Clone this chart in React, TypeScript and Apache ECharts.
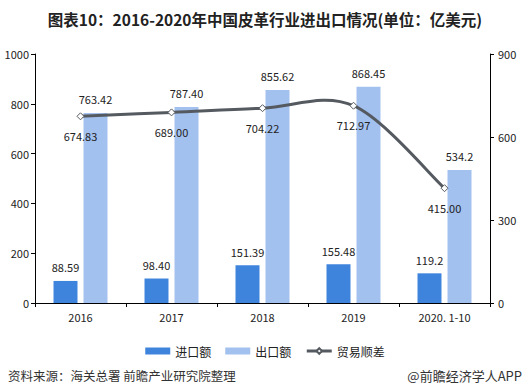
import React, { useEffect, useRef } from "react";
import * as echarts from "echarts";

const categories = ["2016", "2017", "2018", "2019", "2020.1-10"];
const importValues = [88.59, 98.4, 151.39, 155.48, 119.2];
const exportValues = [763.42, 787.4, 855.62, 868.45, 534.2];
const surplusValues = [674.83, 689.0, 704.22, 712.97, 415.0];
const importLabels = ["88.59", "98.40", "151.39", "155.48", "119.2"];
const exportLabels = ["763.42", "787.40", "855.62", "868.45", "534.2"];
const surplusLabels = ["674.83", "689.00", "704.22", "712.97", "415.00"];
const leftTicks = { min: 0, max: 1000, interval: 200 };
const rightTicks = { min: 0, max: 900, interval: 300 };

const FONT = "'Noto Sans CJK SC', 'Noto Sans', sans-serif";
const LINE_COLOR = "#555a60";

export default function App() {
  const ref = useRef<HTMLDivElement>(null);
  useEffect(() => {
    if (!ref.current) return;
    const chart = echarts.init(ref.current, undefined, { renderer: "svg" });
    const labelStyle = { fontSize: 11, color: "#222", fontFamily: FONT };
    chart.setOption({
      animation: false,
      backgroundColor: "#fff",
      title: {
        text: "图表10：2016-2020年中国皮革行业进出口情况(单位：亿美元)",
        left: "center",
        top: 6,
        textStyle: { fontSize: 15.5, fontWeight: "bold", color: "#222", fontFamily: FONT },
      },
      graphic: [
        {
          type: "text",
          left: 8,
          top: 369,
          style: { text: "资料来源：海关总署 前瞻产业研究院整理", fontSize: 12.5, fill: "#333", fontFamily: FONT },
        },
        {
          type: "text",
          right: 8,
          top: 369,
          style: { text: "@前瞻经济学人APP", fontSize: 13, fill: "#333", fontFamily: FONT },
        },
      ],
      legend: {
        top: 340,
        left: "center",
        itemGap: 14,
        itemWidth: 25,
        itemHeight: 7,
        textStyle: { fontSize: 12, color: "#222", fontFamily: FONT },
        data: [
          { name: "进口额", icon: "rect" },
          { name: "出口额", icon: "rect" },
          { name: "贸易顺差", lineStyle: { color: LINE_COLOR, width: 3, opacity: 1 } },
        ],
      },
      grid: { left: 35, right: 40, top: 54, bottom: 89 },
      xAxis: {
        type: "category",
        data: categories,
        axisLine: { lineStyle: { color: "#000" } },
        axisTick: { show: true, length: 4, lineStyle: { color: "#000" } },
        axisLabel: {
          fontSize: 11,
          color: "#222",
          margin: 8,
          fontFamily: FONT,
          formatter: (v: string) => v.replace(".", ". "),
        },
      },
      yAxis: [
        {
          type: "value",
          ...leftTicks,
          axisLine: { show: true, lineStyle: { color: "#000" } },
          axisTick: { show: true, length: 4, lineStyle: { color: "#000" } },
          splitLine: { show: false },
          axisLabel: {
            fontSize: 11,
            color: "#222",
            margin: 6,
            fontFamily: FONT,
            formatter: (v: number) => String(v),
          },
        },
        {
          type: "value",
          ...rightTicks,
          position: "right",
          axisLine: { show: true, lineStyle: { color: "#000" } },
          axisTick: { show: true, length: 4, lineStyle: { color: "#000" } },
          splitLine: { show: false },
          axisLabel: {
            fontSize: 11,
            color: "#222",
            margin: 8,
            fontFamily: FONT,
            formatter: (v: number) => String(v),
          },
        },
      ],
      series: [
        {
          name: "进口额",
          type: "bar",
          yAxisIndex: 0,
          data: importValues,
          barWidth: 24,
          barGap: "25%",
          itemStyle: { color: "#3f84dc" },
          label: {
            show: true,
            position: "top",
            distance: 8,
            ...labelStyle,
            formatter: (p: any) => importLabels[p.dataIndex],
          },
        },
        {
          name: "出口额",
          type: "bar",
          yAxisIndex: 0,
          data: exportValues,
          barWidth: 24,
          itemStyle: { color: "#a3c1ef" },
          label: {
            show: true,
            position: "top",
            distance: 8,
            ...labelStyle,
            formatter: (p: any) => exportLabels[p.dataIndex],
          },
        },
        {
          name: "贸易顺差曲线",
          type: "custom",
          yAxisIndex: 1,
          silent: true,
          z: 4,
          data: surplusValues.map((v, i) => [i, v]),
          renderItem: (params: any, api: any) => {
            if (params.dataIndex !== 0) return null;
            const pts = surplusValues.map((v, i) => api.coord([i, v]));
            const n = pts.length;
            let d = `M${pts[0][0]},${pts[0][1]}`;
            for (let i = 0; i < n - 1; i++) {
              const p0 = pts[Math.max(i - 1, 0)];
              const p1 = pts[i];
              const p2 = pts[i + 1];
              const p3 = pts[Math.min(i + 2, n - 1)];
              const k = 1 / 6;
              const c1x = p1[0] + (p2[0] - p0[0]) * k;
              const c1y = p1[1] + (p2[1] - p0[1]) * k;
              const c2x = p2[0] - (p3[0] - p1[0]) * k;
              const c2y = p2[1] - (p3[1] - p1[1]) * k;
              d += ` C${c1x},${c1y} ${c2x},${c2y} ${p2[0]},${p2[1]}`;
            }
            return {
              type: "path",
              shape: { pathData: d },
              style: { fill: "none", stroke: LINE_COLOR, lineWidth: 3 },
            };
          },
        },
        {
          name: "贸易顺差",
          type: "line",
          yAxisIndex: 1,
          data: surplusValues,
          symbol: "diamond",
          symbolSize: 7,
          lineStyle: { color: LINE_COLOR, width: 3, opacity: 0 },
          itemStyle: { color: "#fff", borderColor: LINE_COLOR, borderWidth: 1 },
          label: {
            show: true,
            position: "bottom",
            distance: 10,
            ...labelStyle,
            formatter: (p: any) => surplusLabels[p.dataIndex],
          },
          z: 5,
        },
      ],
    });
    return () => chart.dispose();
  }, []);
  return (
    <div
      ref={ref}
      style={{ position: "fixed", left: 0, top: 0, width: 530, height: 392 }}
    />
  );
}
